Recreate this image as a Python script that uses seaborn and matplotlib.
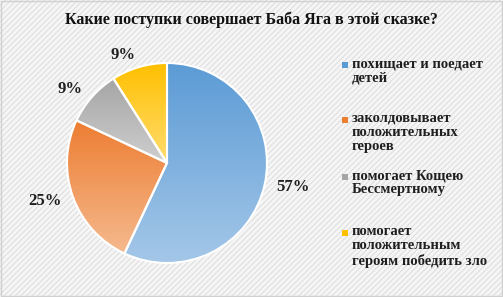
import numpy as np
import matplotlib
matplotlib.use("Agg")
import matplotlib.pyplot as plt
from matplotlib.patches import Rectangle
import seaborn as sns

title = "Какие поступки совершает Баба Яга в этой сказке?"
categories = [
    "похищает и поедает\nдетей",
    "заколдовывает\nположительных\nгероев",
    "помогает Кощею\nБессмертному",
    "помогает\nположительным\nгероям победить зло",
]
values = [57, 25, 9, 9]
pct_labels = ["57%", "25%", "9%", "9%"]
top_colors = ["#5b9bd5", "#ed7d31", "#a5a5a5", "#ffc000"]
bottom_colors = ["#a4c7e8", "#f5b98e", "#cfcfcf", "#ffdc70"]

sns.set_style("white")
plt.rcParams["font.family"] = ["Liberation Serif", "DejaVu Serif"]
plt.rcParams["hatch.linewidth"] = 0.6
plt.rcParams["hatch.color"] = "#e4e4e4"

fig = plt.figure(figsize=(5.03, 2.97), dpi=100)
fig.patch.set_facecolor("#f5f5f5")
# hatched chart-area background, like the office template
fig.add_artist(Rectangle((0, 0), 1, 1, transform=fig.transFigure,
                         facecolor="#f5f5f5", edgecolor="#d9d9d9",
                         hatch="//////", lw=0, zorder=0))
fig.add_artist(Rectangle((0.001, 0.002), 0.997, 0.995, transform=fig.transFigure,
                         facecolor="none", edgecolor="#d0d0d0", lw=1, zorder=1))

W, H = 503, 297
cx, cy, r = 167, 163, 100
lim = 1.3
ax = fig.add_axes([(cx - lim * r) / W, (H - cy - lim * r) / H, 2 * lim * r / W, 2 * lim * r / H])
ax.set_facecolor("none")

wedges, texts = ax.pie(values, labels=pct_labels, startangle=90, counterclock=False,
                       labeldistance=1.12,
                       wedgeprops=dict(edgecolor="white", linewidth=1.5, facecolor="none"),
                       textprops=dict(fontsize=12, fontweight="bold", color="#1f1f1f"))

grad = np.linspace(0, 1, 256).reshape(-1, 1)
for w, c0, c1 in zip(wedges, top_colors, bottom_colors):
    ext = w.get_path().get_extents()
    cmap = sns.blend_palette([c0, c1], as_cmap=True)
    im = ax.imshow(grad, cmap=cmap, aspect="auto", origin="upper",
                   extent=[ext.x0, ext.x1, ext.y0, ext.y1], zorder=1)
    im.set_clip_path(w)
    w.set_zorder(2)

ax.set_xlim(-lim, lim)
ax.set_ylim(-lim, lim)
ax.set_aspect("auto")
ax.axis("off")

fig.text(0.5, 1 - 20 / H, title, ha="center", va="center",
         fontsize=11.5, fontweight="bold", color="#111111")

# legend, placed by hand so entries sit at even spacing
leg_y = [65, 120, 177, 233]
for lab, c0, c1, y in zip(categories, top_colors, bottom_colors, leg_y):
    fig.add_artist(Rectangle(((345 - 3) / W, (H - y - 3) / H), 6 / W, 6 / H,
                             transform=fig.transFigure, facecolor=c0, lw=0))
    fig.text(352 / W, (H - y + 8) / H, lab, ha="left", va="top",
             fontsize=10.5, fontweight="bold", color="#1f1f1f", linespacing=1.12)

fig.savefig("out.png", dpi=100, facecolor=fig.get_facecolor())
